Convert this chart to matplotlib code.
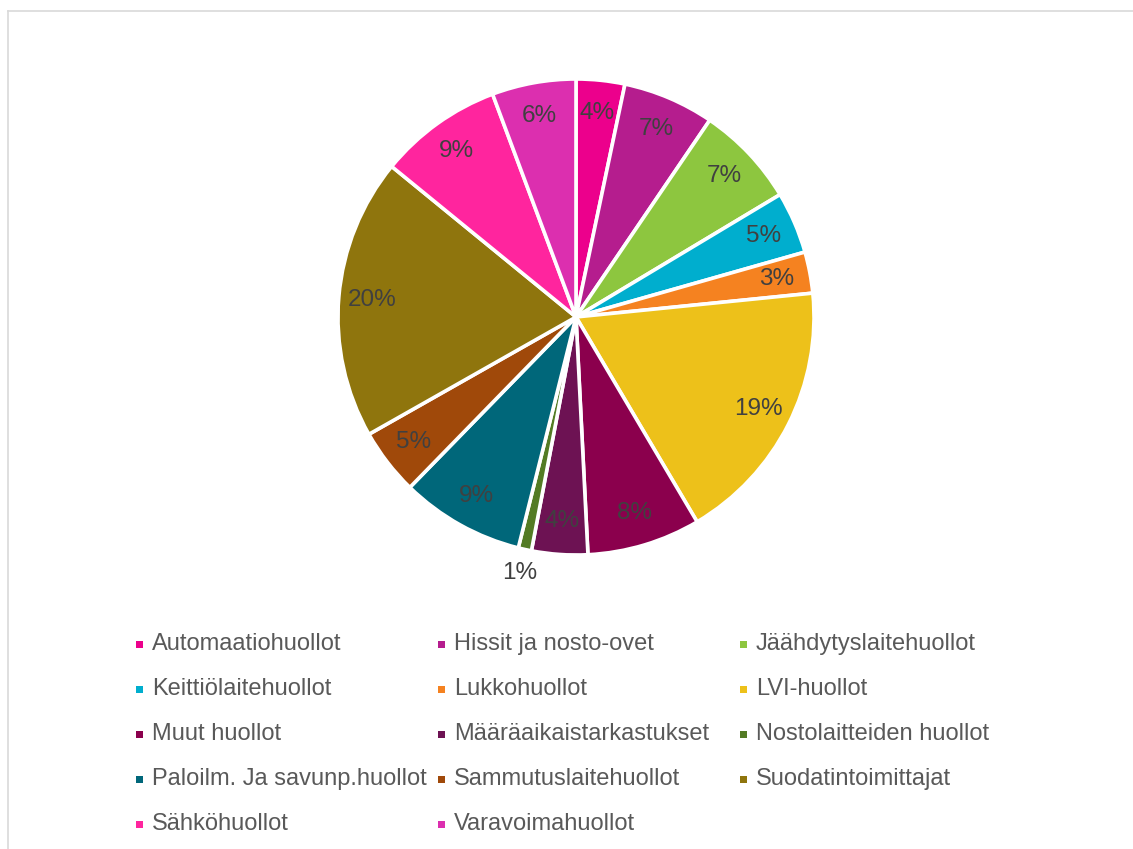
import math
import matplotlib
matplotlib.use("Agg")
import matplotlib.pyplot as plt
from matplotlib.patches import Rectangle
from matplotlib.lines import Line2D

plt.rcParams['font.family'] = ['Liberation Sans', 'DejaVu Sans']

# shares in percent (labels are rounded up)
categories = ['Automaatiohuollot', 'Hissit ja nosto-ovet', 'Jäähdytyslaitehuollot',
              'Keittiölaitehuollot', 'Lukkohuollot', 'LVI-huollot',
              'Muut huollot', 'Määräaikaistarkastukset', 'Nostolaitteiden huollot',
              'Paloilm. Ja savunp.huollot', 'Sammutuslaitehuollot', 'Suodatintoimittajat',
              'Sähköhuollot', 'Varavoimahuollot']
shares = [3.3, 6.2, 6.9, 4.2, 2.8, 18.1, 7.7, 3.8, 0.9, 8.4, 4.5, 19.1, 8.4, 5.7]
colors = ['#EC008C', '#B51D8E', '#8DC63F', '#00AECE', '#F58220', '#EDC11A',
          '#8B004D', '#6D1253', '#537B24', '#00677A', '#A0490A', '#8F750D',
          '#FF259E', '#DC2FAF']

W, H = 1133, 849
fig = plt.figure(figsize=(W / 100, H / 100), dpi=100)

# light grey chart frame
fig.add_artist(Line2D([7.5 / W, 1], [1 - 10.5 / H, 1 - 10.5 / H], color='#D9D9D9', lw=1.2))
fig.add_artist(Line2D([7.5 / W, 7.5 / W], [0, 1 - 10.5 / H], color='#D9D9D9', lw=1.2))

cx, cy, r = 576, 317, 238
ax = fig.add_axes([(cx - r) / W, (H - cy - r) / H, 2 * r / W, 2 * r / H])
wedges, texts, autotexts = ax.pie(
    shares, colors=colors, startangle=90, counterclock=False, radius=1,
    autopct=lambda p: '%d%%' % math.ceil(p), pctdistance=0.86,
    wedgeprops=dict(edgecolor='white', linewidth=2.6),
    textprops=dict(color='#404040', fontsize=17.5))
ax.set_xlim(-1, 1)
ax.set_ylim(-1, 1)
ax.set_aspect('equal')
ax.axis('off')

# tiny slice label sits outside
i = categories.index('Nostolaitteiden huollot')
x, y = autotexts[i].get_position()
autotexts[i].set_position((x * 1.1 / 0.86, y * 1.1 / 0.86))

# legend, row-major in three fixed-width columns
col_x = [136, 438, 740]
row_y = [644, 689, 734, 779, 824]
for k, name in enumerate(categories):
    px = col_x[k % 3]
    py = row_y[k // 3]
    fig.add_artist(Rectangle((px / W, 1 - (py + 4) / H), 7 / W, 7 / H,
                             facecolor=colors[k], edgecolor='none',
                             transform=fig.transFigure))
    fig.text((px + 16) / W, 1 - py / H, name, fontsize=17, color='#595959',
             va='center', ha='left')

fig.savefig('out.png', dpi=100)
